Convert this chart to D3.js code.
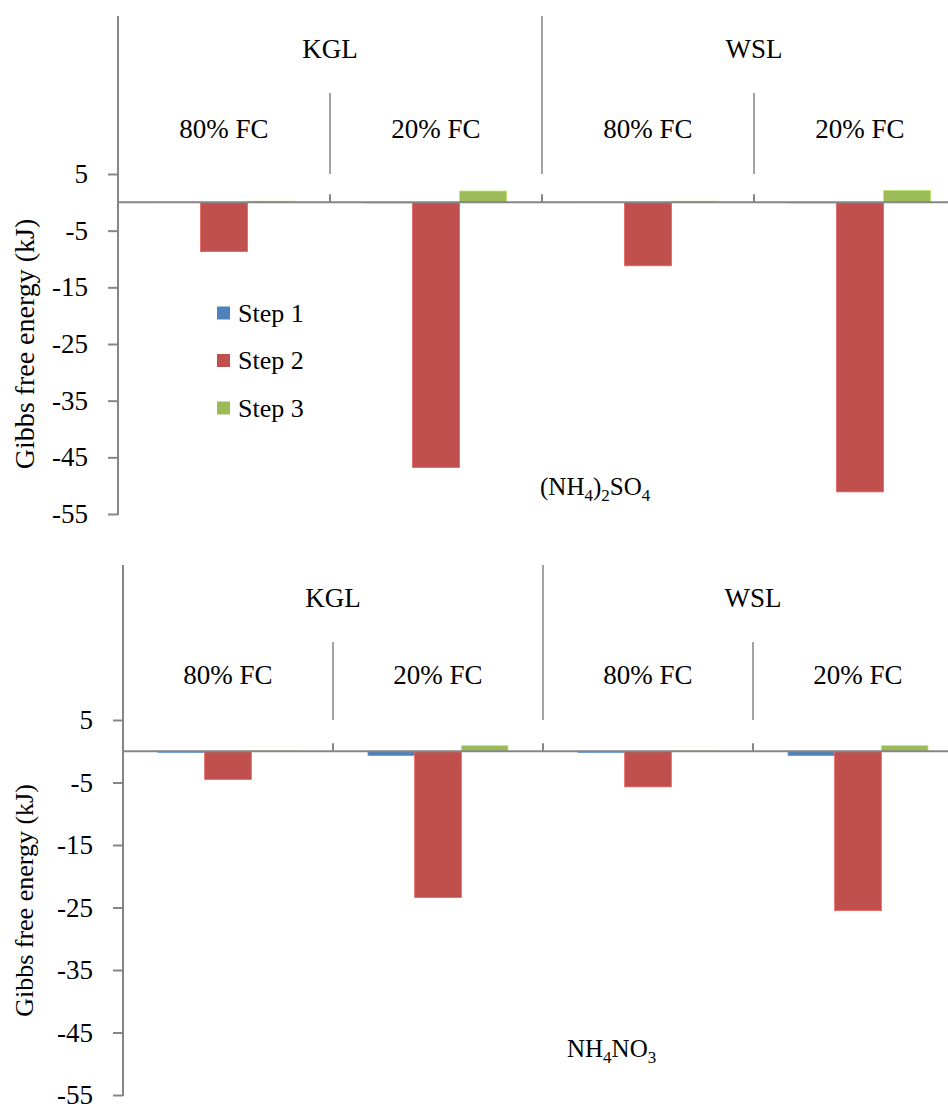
<!DOCTYPE html>
<html>
<head>
<meta charset="utf-8">
<script src="https://cdn.jsdelivr.net/npm/d3@7"></script>
<style>
  body { margin: 0; background: #fff; }
  svg text { font-family: "Liberation Serif", Tinos, "DejaVu Serif", serif !important; fill: #000; }
</style>
</head>
<body>
<svg font-family="Liberation Serif, serif"></svg>
<script>
const SITES = ['KGL', 'WSL'];
const MOISTURE = ['80% FC', '20% FC'];
const STEPS = ['Step 1', 'Step 2', 'Step 3'];
const COLORS = ['#4F81BD', '#C0504D', '#9BBB59'];
const Y_TICKS = [5, -5, -15, -25, -35, -45, -55];

// order: KGL 80% FC, KGL 20% FC, WSL 80% FC, WSL 20% FC
const SO4_STEP1 = [-0.05, -0.1, -0.05, -0.1];
const SO4_STEP2 = [-8.7, -46.8, -11.2, -51.1];
const SO4_STEP3 = [0.2, 2.0, 0.2, 2.1];
const NO3_STEP1 = [-0.2, -0.7, -0.2, -0.7];
const NO3_STEP2 = [-4.5, -23.4, -5.7, -25.5];
const NO3_STEP3 = [0.05, 0.9, 0.05, 0.9];

const AXIS_COLOR = '#868686';
const FONT = 27;
const SERIF = '"Liberation Serif", Tinos, "DejaVu Serif", serif';

const svg = d3.select('svg')
    .attr('width', 948)
    .attr('height', 1106);

const categories = SITES.flatMap(s => MOISTURE.map(m => s + '|' + m));

const panels = [
    { top: 16, y5: 174, y55: 514, x0: 118, x1: 966, labelX: 34, labelSize: 28,
      series: [SO4_STEP1, SO4_STEP2, SO4_STEP3],
      formula: [['(NH', 0], ['4', 1], [')', 0], ['2', 1], ['SO', 0], ['4', 1]],
      formulaX: 540, formulaY: 495, legend: true },
    { top: 565, y5: 720, y55: 1095, x0: 123, x1: 963, labelX: 33, labelSize: 26,
      series: [NO3_STEP1, NO3_STEP2, NO3_STEP3],
      formula: [['NH', 0], ['4', 1], ['NO', 0], ['3', 1]],
      formulaX: 567, formulaY: 1057, legend: false }
];

function drawPanel(p) {
    const g = svg.append('g').style('font-family', SERIF);

    const yScale = d3.scaleLinear()
        .domain([-55, 5])
        .range([p.y55, p.y5]);

    const xScale = d3.scaleBand()
        .domain(categories)
        .range([p.x0, p.x1]);

    const siteScale = d3.scaleBand()
        .domain(SITES)
        .range([p.x0, p.x1]);

    const stepScale = d3.scaleBand()
        .domain(STEPS)
        .range([0, xScale.bandwidth()])
        .paddingInner(0)
        .paddingOuter(0.75);

    const y0 = yScale(0);

    // bars
    STEPS.forEach((step, i) => {
        g.selectAll('.bar-' + i)
            .data(p.series[i])
            .enter()
            .append('rect')
            .attr('class', 'bar-' + i)
            .attr('x', (d, j) => xScale(categories[j]) + stepScale(step))
            .attr('y', d => Math.min(yScale(d), y0))
            .attr('width', stepScale.bandwidth())
            .attr('height', d => Math.abs(yScale(d) - y0))
            .attr('fill', COLORS[i])
            .attr('stroke', d3.color(COLORS[i]).brighter(0.6))
            .attr('stroke-width', 0.8);
    });

    // value axis
    const axis = g.append('g')
        .attr('transform', `translate(${p.x0},0)`)
        .call(d3.axisLeft(yScale).tickValues(Y_TICKS).tickSize(10).tickPadding(20)
            .tickFormat(d3.format('d')));
    axis.attr('font-family', null).style('font-family', SERIF);
    axis.select('.domain').remove();
    axis.selectAll('line').attr('stroke', AXIS_COLOR).attr('stroke-width', 2);
    axis.selectAll('text')
        .style('font-family', SERIF)
        .attr('font-size', FONT)
        .attr('fill', '#000')
        .text(d => d < 0 ? '-' + Math.abs(d) : d);

    g.append('line')
        .attr('x1', p.x0).attr('x2', p.x0)
        .attr('y1', p.top).attr('y2', p.y55 + 1)
        .attr('stroke', AXIS_COLOR).attr('stroke-width', 2);

    // zero line (category axis)
    g.append('line')
        .attr('x1', p.x0).attr('x2', p.x1)
        .attr('y1', y0).attr('y2', y0)
        .attr('stroke', AXIS_COLOR).attr('stroke-width', 2);

    // tick marks on the zero line
    g.selectAll('.zero-tick')
        .data(categories.slice(1))
        .enter()
        .append('line')
        .attr('x1', d => xScale(d)).attr('x2', d => xScale(d))
        .attr('y1', y0 - 8).attr('y2', y0)
        .attr('stroke', AXIS_COLOR).attr('stroke-width', 2);

    // label separators
    g.selectAll('.site-sep')
        .data(SITES.slice(1))
        .enter()
        .append('line')
        .attr('x1', d => siteScale(d)).attr('x2', d => siteScale(d))
        .attr('y1', p.top).attr('y2', p.y5)
        .attr('stroke', AXIS_COLOR).attr('stroke-width', 1.5);

    g.selectAll('.moist-sep')
        .data(categories.filter((d, i) => i % 2 === 1))
        .enter()
        .append('line')
        .attr('x1', d => xScale(d)).attr('x2', d => xScale(d))
        .attr('y1', p.top + 77).attr('y2', p.y5)
        .attr('stroke', AXIS_COLOR).attr('stroke-width', 1.5);

    // category labels
    g.selectAll('.site-label')
        .data(SITES)
        .enter()
        .append('text')
        .attr('x', d => siteScale(d) + siteScale.bandwidth() / 2)
        .attr('y', p.top + 42)
        .attr('text-anchor', 'middle')
        .attr('font-size', FONT)
        .text(d => d);

    g.selectAll('.moist-label')
        .data(categories)
        .enter()
        .append('text')
        .attr('x', d => xScale(d) + xScale.bandwidth() / 2)
        .attr('y', p.y5 - 36)
        .attr('text-anchor', 'middle')
        .attr('font-size', FONT)
        .text(d => d.split('|')[1]);

    // y label
    g.append('text')
        .attr('transform', `translate(${p.labelX},${(p.y5 + p.y55) / 2 - (p.legend ? 0 : 7)}) rotate(-90)`)
        .attr('text-anchor', 'middle')
        .attr('font-size', p.labelSize)
        .text('Gibbs free energy (kJ)');

    // compound label
    const f = g.append('text')
        .attr('x', p.formulaX)
        .attr('y', p.formulaY)
        .attr('font-size', 25);
    let sub = 0;
    p.formula.forEach(([t, s]) => {
        f.append('tspan')
            .attr('dy', s === sub ? 0 : (s ? 6 : -6))
            .attr('font-size', s ? 17 : 25)
            .text(t);
        sub = s;
    });

    if (p.legend) {
        const legend = g.selectAll('.legend')
            .data(STEPS)
            .enter()
            .append('g')
            .attr('transform', (d, i) => `translate(217,${313 + i * 47.5})`);
        legend.append('rect')
            .attr('x', 0).attr('y', -6.5)
            .attr('width', 13).attr('height', 13)
            .attr('fill', (d, i) => COLORS[i]);
        legend.append('text')
            .attr('x', 21).attr('dy', '0.33em')
            .attr('font-size', 26)
            .text(d => d);
    }
}

panels.forEach(drawPanel);
</script>
</body>
</html>
